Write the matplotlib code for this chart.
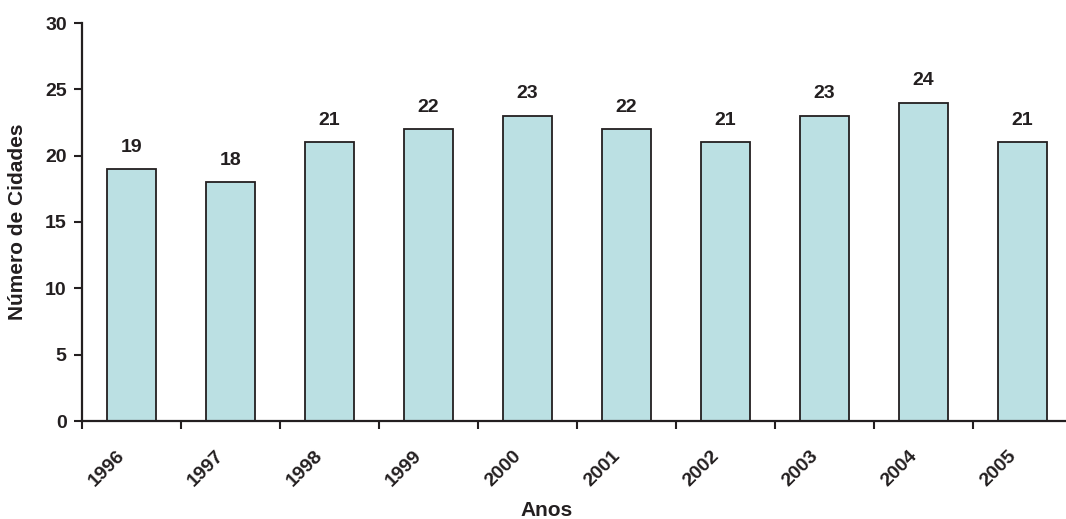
import matplotlib
matplotlib.use("Agg")
import matplotlib.pyplot as plt
import matplotlib.transforms as mtransforms
import numpy as np

plt.rcParams['font.family'] = ['Liberation Sans', 'DejaVu Sans']

years = ['1996', '1997', '1998', '1999', '2000', '2001', '2002', '2003', '2004', '2005']
values = [19, 18, 21, 22, 23, 22, 21, 23, 24, 21]

dark = '#231F20'
fs = 14
fig = plt.figure(figsize=(10.66, 5.19), dpi=100)
W, H = 1066, 519
ax = fig.add_axes([82 / W, (H - 421) / H, 990 / W, 398 / H])

x = np.arange(len(years))
ax.bar(x, values, width=0.5, color='#BBE0E3', edgecolor=dark, linewidth=1.3, zorder=2)

for xi, v in zip(x, values):
    ax.text(xi, v + 1.65, str(v), ha='center', va='center', fontsize=fs,
            fontweight='bold', color=dark)

ax.set_xlim(-0.5, len(years) - 0.5)
ax.set_ylim(0, 30)
ax.set_yticks(range(0, 31, 5))
ax.set_yticklabels([str(t) for t in range(0, 31, 5)], fontsize=fs, fontweight='bold', color=dark)

ax.set_xticks(x - 0.5, minor=False)
ax.set_xticklabels([])
ax.set_xticks(x, minor=True)
ax.set_xticklabels(years, minor=True, rotation=45, ha='right', va='center', rotation_mode='anchor',
                   fontsize=fs, fontweight='bold', color=dark)
ax.tick_params(axis='x', which='minor', length=0, pad=23)
ax.tick_params(axis='x', which='major', length=6, width=1.5, color=dark, direction='out')
ax.tick_params(axis='y', length=6, width=1.5, color=dark, direction='out', pad=5)
offset = mtransforms.ScaledTranslation(-9 / 100, 0, fig.dpi_scale_trans)
for lbl in ax.get_xticklabels(minor=True):
    lbl.set_transform(lbl.get_transform() + offset)

for s in ['top', 'right']:
    ax.spines[s].set_visible(False)
for s in ['left', 'bottom']:
    ax.spines[s].set_linewidth(1.6)
    ax.spines[s].set_color(dark)

ax.set_ylabel('Número de Cidades', fontsize=15, fontweight='bold', color=dark)
ax.yaxis.set_label_coords((18 - 82) / 990, 0.5)
ax.set_xlabel('Anos', fontsize=15, fontweight='bold', color=dark)
ax.xaxis.set_label_coords((547 - 82) / 990, -(510 - 421) / 398)
ax.xaxis.label.set_va('center')
ax.yaxis.label.set_va('center')

fig.savefig('out.png', dpi=100)
